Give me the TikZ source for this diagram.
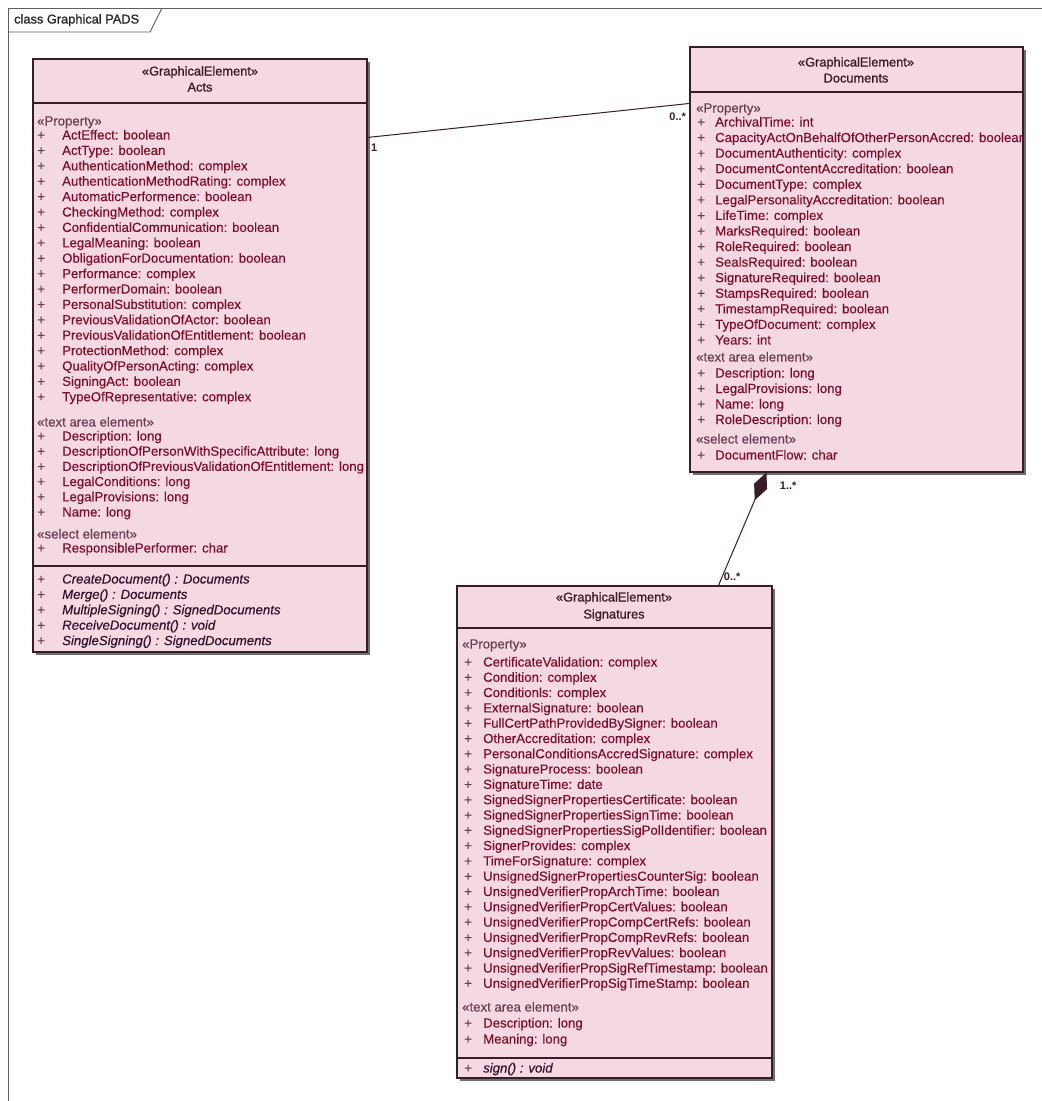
\documentclass[tikz,border=0pt]{standalone}
\usepackage{fontspec}
\setmainfont{Liberation Sans}
\newfontface\eamed{Liberation Sans}[FakeBold=0.35]
\newfontface\eaheavy{Liberation Sans}[FakeBold=1]
\newfontface\eamedit{Liberation Sans Italic}[FakeBold=0.35]
\usetikzlibrary{arrows.meta,positioning,shadows}
\definecolor{eaFill}{RGB}{244,216,226}
\definecolor{eaLine}{RGB}{56,28,40}
\definecolor{eaAttr}{RGB}{124,14,44}
\definecolor{eaStereo}{RGB}{105,62,82}
\definecolor{eaOper}{RGB}{48,18,44}
\definecolor{eaFrame}{RGB}{95,95,95}

\begin{document}
\begin{tikzpicture}[x=1pt,y=-1pt,>=Latex,
    classbox/.style={draw=eaLine,fill=eaFill,line width=1.1pt,inner sep=0pt,
      drop shadow={shadow xshift=2.5pt,shadow yshift=-2.5pt,fill=black!70,opacity=0.8}},
    txt/.style={inner sep=0pt,text height=9.5pt,text depth=2.5pt,font=\fontsize{13.2}{15}\eamed},
    stereo/.style={txt,anchor=west,text=eaStereo},
    attr/.style={txt,anchor=west,text=eaAttr},
    plus/.style={txt,anchor=west,text=eaStereo},
    oper/.style={txt,anchor=west,text=eaOper,font=\fontsize{13.2}{15}\eamedit},
    head/.style={txt,text=eaLine,font=\fontsize{12.8}{15}\eaheavy},
    mult/.style={inner sep=0pt,font=\fontsize{11}{13}\selectfont\bfseries,text=eaLine},
    sep/.style={draw=eaLine,line width=1.1pt},
    frame/.style={draw=eaFrame,line width=0.9pt},
    assoc/.style={draw=eaLine,line width=1pt},
    compo/.style={draw=eaLine,line width=1pt,-{Diamond[length=30pt,width=14pt]}}]
  \useasboundingbox (0,0) rectangle (1042,1101);
  \fill[white] (0,0) rectangle (1042,1101);

  % frame
  \draw[frame] (8,1101) -- (8,8) -- (1042,8);
  \draw[frame] (8,32) -- (150,32) -- (162,8);
  \node[txt,anchor=west,text=black!85,font=\fontsize{12.8}{15}\eaheavy] (frameLbl) at (14,20) {class Graphical PADS};

  % class boxes
  \node[classbox,minimum width=334pt,minimum height=593pt] (acts) at (200,355.5) {};
  \node[classbox,minimum width=333pt,minimum height=425pt] (docs) at (856.5,259.5) {};
  \node[classbox,minimum width=315pt,minimum height=492pt] (sigs) at (614.5,832) {};

  % Acts
  \node[head] (actsSt) at (200,72) {«GraphicalElement»};
  \node[head] (actsName) at (200,88) {Acts};
  \draw[sep] (33,103) -- (367,103);
  \draw[sep] (33,566) -- (367,566);
  \begin{scope}
    \clip (33,59) rectangle (366,652);
    \node[stereo] (actsProp) at (37,122) {«Property»};
    \foreach \t [count=\i] in {ActEffect: boolean, ActType: boolean,
        AuthenticationMethod: complex, AuthenticationMethodRating: complex,
        AutomaticPerformence: boolean, CheckingMethod: complex,
        ConfidentialCommunication: boolean, LegalMeaning: boolean,
        ObligationForDocumentation: boolean, Performance: complex,
        PerformerDomain: boolean, PersonalSubstitution: complex,
        PreviousValidationOfActor: boolean, PreviousValidationOfEntitlement: boolean,
        ProtectionMethod: complex, QualityOfPersonActing: complex,
        SigningAct: boolean, TypeOfRepresentative: complex} {
      \node[plus] (actsPlus\i) at (37,{136+15.4*(\i-1)}) {+};
      \node[attr] (actsAttr\i) at (62,{136+15.4*(\i-1)}) {\t};
    }
    \node[stereo] (actsArea) at (37,423) {«text area element»};
    \foreach \t [count=\i] in {Description: long,
        DescriptionOfPersonWithSpecificAttribute: long,
        DescriptionOfPreviousValidationOfEntitlement: long,
        LegalConditions: long, LegalProvisions: long, Name: long} {
      \node[plus] (actsAreaPlus\i) at (37,{437+15.2*(\i-1)}) {+};
      \node[attr] (actsAreaAttr\i) at (62,{437+15.2*(\i-1)}) {\t};
    }
    \node[stereo] (actsSel) at (37,535) {«select element»};
    \node[plus] (actsSelPlus) at (37,549) {+};
    \node[attr] (actsSelAttr) at (62,549) {ResponsiblePerformer: char};
    \foreach \t [count=\i] in {CreateDocument() : Documents, Merge() : Documents,
        MultipleSigning() : SignedDocuments, ReceiveDocument() : void,
        SingleSigning() : SignedDocuments} {
      \node[plus] (actsOpPlus\i) at (37,{580+15.4*(\i-1)}) {+};
      \node[oper] (actsOp\i) at (62,{580+15.4*(\i-1)}) {\t};
    }
  \end{scope}

  % Documents
  \node[head] (docsSt) at (856,63) {«GraphicalElement»};
  \node[head] (docsName) at (856,79) {Documents};
  \draw[sep] (690,92) -- (1023,92);
  \begin{scope}
    \clip (690,47) rectangle (1022,472);
    \node[stereo] (docsProp) at (696,109) {«Property»};
    \foreach \t [count=\i] in {ArchivalTime: int,
        CapacityActOnBehalfOfOtherPersonAccred: boolean,
        DocumentAuthenticity: complex, DocumentContentAccreditation: boolean,
        DocumentType: complex, LegalPersonalityAccreditation: boolean,
        LifeTime: complex, MarksRequired: boolean, RoleRequired: boolean,
        SealsRequired: boolean, SignatureRequired: boolean,
        StampsRequired: boolean, TimestampRequired: boolean,
        TypeOfDocument: complex, Years: int} {
      \node[plus] (docsPlus\i) at (697,{123+15.57*(\i-1)}) {+};
      \node[attr] (docsAttr\i) at (715,{123+15.57*(\i-1)}) {\t};
    }
    \node[stereo] (docsArea) at (696,358) {«text area element»};
    \foreach \t [count=\i] in {Description: long, LegalProvisions: long,
        Name: long, RoleDescription: long} {
      \node[plus] (docsAreaPlus\i) at (697,{374+15.5*(\i-1)}) {+};
      \node[attr] (docsAreaAttr\i) at (715,{374+15.5*(\i-1)}) {\t};
    }
    \node[stereo] (docsSel) at (696,440) {«select element»};
    \node[plus] (docsSelPlus) at (697,456) {+};
    \node[attr] (docsSelAttr) at (715,456) {DocumentFlow: char};
  \end{scope}

  % Signatures
  \node[head] (sigsSt) at (614,598) {«GraphicalElement»};
  \node[head] (sigsName) at (614,615) {Signatures};
  \draw[sep] (457,628) -- (772,628);
  \draw[sep] (457,1058) -- (772,1058);
  \begin{scope}
    \clip (457,586) rectangle (771,1078);
    \node[stereo] (sigsProp) at (462,645) {«Property»};
    \foreach \t [count=\i] in {CertificateValidation: complex, Condition: complex,
        Conditionls: complex, ExternalSignature: boolean,
        FullCertPathProvidedBySigner: boolean, OtherAccreditation: complex,
        PersonalConditionsAccredSignature: complex, SignatureProcess: boolean,
        SignatureTime: date, SignedSignerPropertiesCertificate: boolean,
        SignedSignerPropertiesSignTime: boolean,
        SignedSignerPropertiesSigPolIdentifier: boolean,
        SignerProvides: complex, TimeForSignature: complex,
        UnsignedSignerPropertiesCounterSig: boolean,
        UnsignedVerifierPropArchTime: boolean,
        UnsignedVerifierPropCertValues: boolean,
        UnsignedVerifierPropCompCertRefs: boolean,
        UnsignedVerifierPropCompRevRefs: boolean,
        UnsignedVerifierPropRevValues: boolean,
        UnsignedVerifierPropSigRefTimestamp: boolean,
        UnsignedVerifierPropSigTimeStamp: boolean} {
      \node[plus] (sigsPlus\i) at (464,{663+15.3*(\i-1)}) {+};
      \node[attr] (sigsAttr\i) at (483,{663+15.3*(\i-1)}) {\t};
    }
    \node[stereo] (sigsArea) at (462,1008) {«text area element»};
    \foreach \t [count=\i] in {Description: long, Meaning: long} {
      \node[plus] (sigsAreaPlus\i) at (464,{1024+16*(\i-1)}) {+};
      \node[attr] (sigsAreaAttr\i) at (483,{1024+16*(\i-1)}) {\t};
    }
    \node[plus] (sigsOpPlus) at (464,1069) {+};
    \node[oper] (sigsOp) at (483,1069) {sign() : void};
  \end{scope}

  % connectors
  \draw[assoc] ([yshift=-79pt]acts.north east) -- ([yshift=-57pt]docs.north west)
    node[mult,pos=0,anchor=north west,xshift=3pt,yshift=-6pt] (multActs) {1}
    node[mult,pos=1,anchor=north east,xshift=-3pt,yshift=-9pt] (multDocs) {0..*};
  \draw[compo] ([xshift=262pt]sigs.north west) -- ([xshift=77pt]docs.south west)
    node[mult,pos=0,anchor=south west,xshift=5pt,yshift=4pt] (multSigs) {0..*}
    node[mult,pos=1,anchor=north west,xshift=13pt,yshift=-9pt] (multWhole) {1..*};
\end{tikzpicture}
\end{document}
